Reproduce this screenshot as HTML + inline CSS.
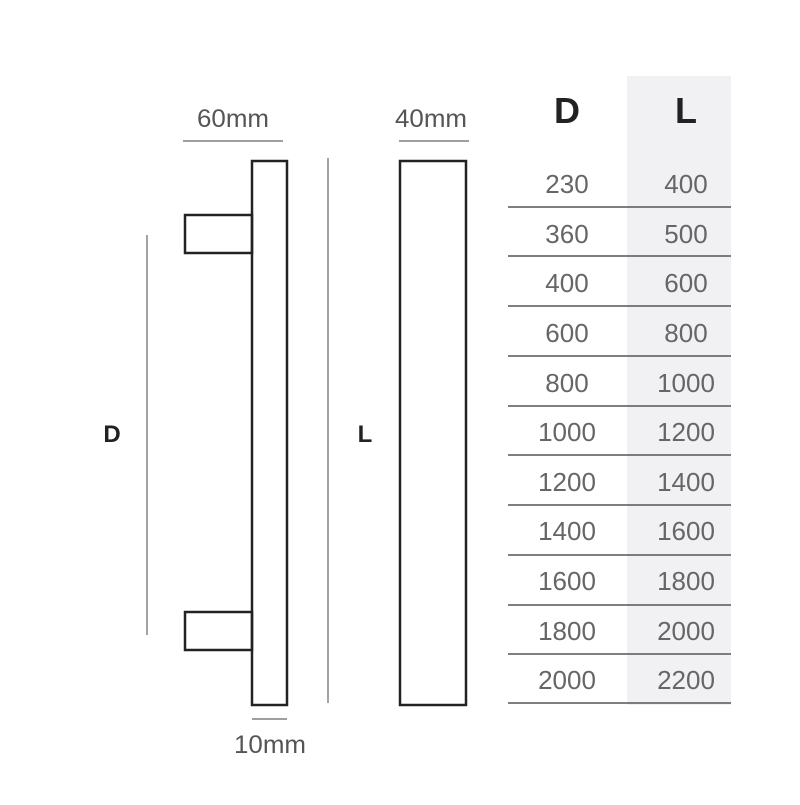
<!DOCTYPE html>
<html><head><style>html,body{margin:0;padding:0;background:#fff}</style></head>
<body>
<svg width="800" height="800" viewBox="0 0 800 800" xmlns="http://www.w3.org/2000/svg" font-family="Liberation Sans, sans-serif">
<rect width="800" height="800" fill="#fff"/>
<rect x="627" y="76" width="104" height="629" fill="#f1f1f3"/>
<g fill="none" stroke="#222" stroke-width="2.5">
<rect x="252" y="161" width="35" height="544"/>
<rect x="185" y="215" width="67" height="38"/>
<rect x="185" y="612" width="67" height="38"/>
<rect x="400" y="161" width="66" height="544"/>
</g>
<g stroke="#666" stroke-width="1.2">
<line x1="183" y1="141" x2="283" y2="141"/>
<line x1="399" y1="141" x2="469" y2="141"/>
<line x1="252" y1="719" x2="287" y2="719"/>
<line x1="147" y1="235" x2="147" y2="635"/>
<line x1="328" y1="158" x2="328" y2="703"/>
</g>
<g fill="#555" font-size="25" text-anchor="middle">
<text x="233" y="127" textLength="72" lengthAdjust="spacingAndGlyphs">60mm</text>
<text x="431" y="127" textLength="72" lengthAdjust="spacingAndGlyphs">40mm</text>
<text x="270" y="753" textLength="72" lengthAdjust="spacingAndGlyphs">10mm</text>
</g>
<g fill="#222" font-weight="bold" text-anchor="middle">
<text x="112" y="442" font-size="24">D</text>
<text x="365" y="442" font-size="24">L</text>
<text x="567" y="123" font-size="36">D</text>
<text x="686" y="123" font-size="36">L</text>
</g>
<g stroke="#555" stroke-width="1.5">
<line x1="508" y1="207" x2="731" y2="207"/>
<line x1="508" y1="256" x2="731" y2="256"/>
<line x1="508" y1="306" x2="731" y2="306"/>
<line x1="508" y1="356" x2="731" y2="356"/>
<line x1="508" y1="406" x2="731" y2="406"/>
<line x1="508" y1="455" x2="731" y2="455"/>
<line x1="508" y1="505" x2="731" y2="505"/>
<line x1="508" y1="555" x2="731" y2="555"/>
<line x1="508" y1="605" x2="731" y2="605"/>
<line x1="508" y1="654" x2="731" y2="654"/>
<line x1="508" y1="703" x2="731" y2="703"/>
</g>
<g fill="#666" font-size="26" text-anchor="middle">
<text x="567" y="193">230</text><text x="686" y="193">400</text>
<text x="567" y="243">360</text><text x="686" y="243">500</text>
<text x="567" y="292">400</text><text x="686" y="292">600</text>
<text x="567" y="342">600</text><text x="686" y="342">800</text>
<text x="567" y="392">800</text><text x="686" y="392">1000</text>
<text x="567" y="441">1000</text><text x="686" y="441">1200</text>
<text x="567" y="491">1200</text><text x="686" y="491">1400</text>
<text x="567" y="540">1400</text><text x="686" y="540">1600</text>
<text x="567" y="590">1600</text><text x="686" y="590">1800</text>
<text x="567" y="640">1800</text><text x="686" y="640">2000</text>
<text x="567" y="689">2000</text><text x="686" y="689">2200</text>
</g>
</svg>
</body></html>
